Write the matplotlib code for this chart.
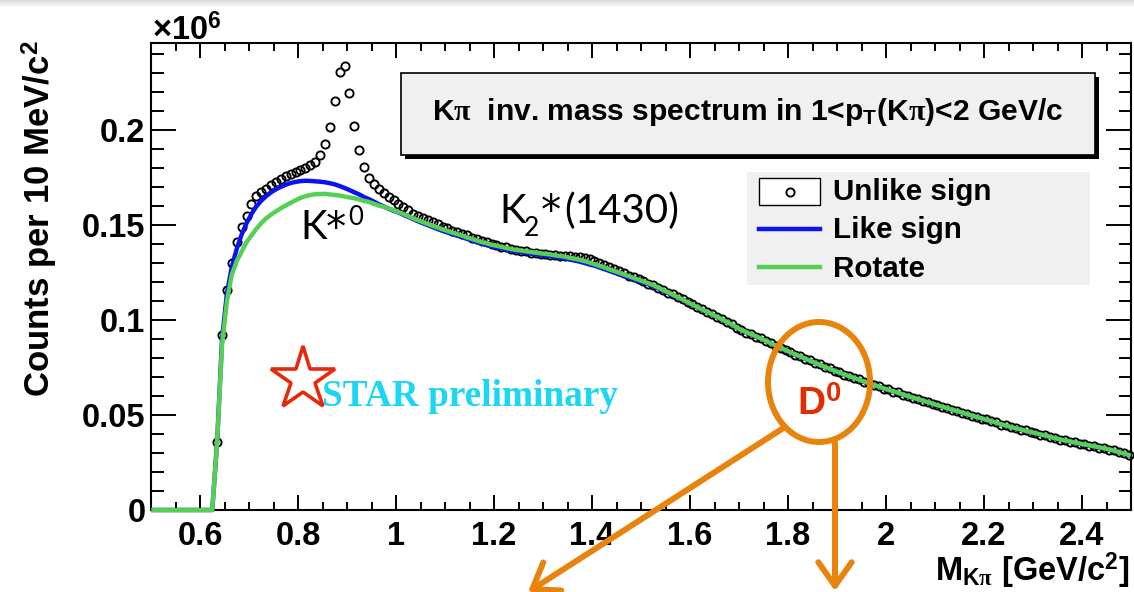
import numpy as np
import matplotlib
matplotlib.use("Agg")
import matplotlib.pyplot as plt
from matplotlib.patches import Rectangle, Ellipse, FancyArrowPatch, ArrowStyle
from matplotlib.lines import Line2D
from matplotlib.ticker import MultipleLocator, FuncFormatter

# K-pi invariant-mass histograms: 10 MeV/c^2 bins from 0.5 to 2.5 GeV/c^2
bin_low = 0.5
bin_width = 0.01
n_bins = 200

nan = np.nan

# counts per bin, in units of 1e6
unlike_sign = [
    nan, nan, nan, nan, nan, nan, nan, nan, nan, nan,
    nan, nan, nan, 0.036, 0.092, 0.116, 0.130, 0.141, 0.149, 0.155,
    0.161, 0.1655, 0.1675, 0.1692, 0.1710, 0.1727, 0.1743, 0.1757, 0.1768, 0.1777,
    0.1787, 0.1799, 0.1815, 0.1834, 0.1866, 0.1926, 0.2015, 0.2155, 0.2305, 0.2335,
    0.2195, 0.2020, 0.1895, 0.1805, 0.1750, 0.1718, 0.1690, 0.1667, 0.1648, 0.1631,
    0.1612, 0.1597, 0.1580, 0.1560, 0.1550, 0.1538, 0.1524, 0.1514, 0.1503, 0.1492,
    0.1482, 0.1470, 0.1465, 0.1452, 0.1445, 0.1432, 0.1426, 0.1416, 0.1408, 0.1400,
    0.1393, 0.1384, 0.1382, 0.1372, 0.1369, 0.1362, 0.1361, 0.1354, 0.1352, 0.1349,
    0.1345, 0.1343, 0.1341, 0.1339, 0.1338, 0.1336, 0.1334, 0.1331, 0.1326, 0.1320,
    0.1312, 0.1302, 0.1292, 0.1280, 0.1268, 0.1257, 0.1246, 0.1234, 0.1225, 0.1214,
    0.1206, 0.1192, 0.1185, 0.1169, 0.1160, 0.1144, 0.1135, 0.1119, 0.1110, 0.1093,
    0.1083, 0.1066, 0.1057, 0.1041, 0.1032, 0.1015, 0.1006, 0.0988, 0.0979, 0.0960,
    0.0950, 0.0934, 0.0927, 0.0912, 0.0904, 0.0888, 0.0879, 0.0864, 0.0855, 0.0840,
    0.0832, 0.0817, 0.0810, 0.0795, 0.0789, 0.0773, 0.0766, 0.0751, 0.0745, 0.0731,
    0.0725, 0.0712, 0.0706, 0.0693, 0.0688, 0.0674, 0.0670, 0.0657, 0.0652, 0.0639,
    0.0635, 0.0623, 0.0619, 0.0606, 0.0601, 0.0589, 0.0586, 0.0574, 0.0570, 0.0558,
    0.0554, 0.0542, 0.0538, 0.0526, 0.0523, 0.0511, 0.0507, 0.0495, 0.0492, 0.0481,
    0.0477, 0.0466, 0.0462, 0.0450, 0.0446, 0.0435, 0.0432, 0.0422, 0.0419, 0.0409,
    0.0407, 0.0396, 0.0394, 0.0383, 0.0380, 0.0370, 0.0368, 0.0359, 0.0357, 0.0348,
    0.0347, 0.0338, 0.0337, 0.0328, 0.0327, 0.0317, 0.0315, 0.0303, 0.0300, 0.0288,
]

like_sign = [
    0, 0, 0, 0, 0, 0, 0, 0, 0, 0,
    0, 0, 0, 0.036, 0.090, 0.114, 0.128, 0.1375, 0.145, 0.151,
    0.1558, 0.1598, 0.1628, 0.1652, 0.1672, 0.1688, 0.1701, 0.1712, 0.1721, 0.1727,
    0.1731, 0.1733, 0.1732, 0.1730, 0.1728, 0.1725, 0.1720, 0.1714, 0.1705, 0.1695,
    0.1684, 0.1672, 0.1661, 0.1647, 0.1636, 0.1623, 0.1609, 0.1598, 0.1586, 0.1575,
    0.1566, 0.1554, 0.1543, 0.1531, 0.1520, 0.1509, 0.1499, 0.1489, 0.1479, 0.1469,
    0.1461, 0.1452, 0.1444, 0.1436, 0.1427, 0.1419, 0.1410, 0.1402, 0.1396, 0.1388,
    0.1383, 0.1377, 0.1371, 0.1366, 0.1361, 0.1357, 0.1353, 0.1349, 0.1346, 0.1342,
    0.1339, 0.1336, 0.1332, 0.1328, 0.1324, 0.1318, 0.1313, 0.1307, 0.1300, 0.1292,
    0.1286, 0.1277, 0.1268, 0.1259, 0.1250, 0.1241, 0.1232, 0.1223, 0.1214, 0.1205,
    0.1198, 0.1188, 0.1178, 0.1166, 0.1154, 0.1142, 0.1130, 0.1118, 0.1105, 0.1092,
    0.1079, 0.1066, 0.1053, 0.1041, 0.1029, 0.1015, 0.1002, 0.0989, 0.0975, 0.0960,
    0.0947, 0.0935, 0.0924, 0.0912, 0.0901, 0.0889, 0.0876, 0.0865, 0.0852, 0.0841,
    0.0829, 0.0818, 0.0807, 0.0796, 0.0785, 0.0774, 0.0763, 0.0752, 0.0742, 0.0732,
    0.0722, 0.0713, 0.0703, 0.0694, 0.0685, 0.0675, 0.0667, 0.0658, 0.0649, 0.0640,
    0.0632, 0.0624, 0.0616, 0.0607, 0.0598, 0.0590, 0.0583, 0.0575, 0.0567, 0.0559,
    0.0551, 0.0543, 0.0535, 0.0527, 0.0520, 0.0512, 0.0504, 0.0496, 0.0489, 0.0482,
    0.0474, 0.0467, 0.0459, 0.0451, 0.0443, 0.0436, 0.0429, 0.0423, 0.0416, 0.0410,
    0.0404, 0.0397, 0.0391, 0.0384, 0.0377, 0.0371, 0.0365, 0.0360, 0.0354, 0.0349,
    0.0344, 0.0339, 0.0334, 0.0329, 0.0324, 0.0318, 0.0312, 0.0304, 0.0297, 0.0289,
]

rotate = [
    0, 0, 0, 0, 0, 0, 0, 0, 0, 0,
    0, 0, 0, 0.036, 0.087, 0.110, 0.124, 0.131, 0.136, 0.141,
    0.1445, 0.148, 0.151, 0.1535, 0.1555, 0.1572, 0.1588, 0.1603, 0.1617, 0.1630,
    0.1643, 0.1651, 0.1658, 0.1662, 0.1663, 0.1664, 0.1661, 0.1658, 0.1655, 0.1650,
    0.1645, 0.1641, 0.1634, 0.1627, 0.1621, 0.1612, 0.1602, 0.1596, 0.1588, 0.1578,
    0.1568, 0.1558, 0.1547, 0.1535, 0.1525, 0.1515, 0.1505, 0.1496, 0.1487, 0.1477,
    0.1469, 0.1460, 0.1452, 0.1444, 0.1434, 0.1427, 0.1418, 0.1410, 0.1404, 0.1396,
    0.1391, 0.1385, 0.1379, 0.1374, 0.1369, 0.1366, 0.1362, 0.1358, 0.1355, 0.1351,
    0.1348, 0.1345, 0.1340, 0.1337, 0.1333, 0.1327, 0.1322, 0.1317, 0.1310, 0.1302,
    0.1294, 0.1285, 0.1277, 0.1267, 0.1258, 0.1249, 0.1240, 0.1231, 0.1221, 0.1212,
    0.1203, 0.1193, 0.1184, 0.1171, 0.1158, 0.1146, 0.1133, 0.1121, 0.1108, 0.1094,
    0.1081, 0.1068, 0.1055, 0.1043, 0.1030, 0.1017, 0.1004, 0.0990, 0.0977, 0.0961,
    0.0948, 0.0936, 0.0925, 0.0914, 0.0902, 0.0890, 0.0877, 0.0866, 0.0853, 0.0842,
    0.0830, 0.0819, 0.0808, 0.0797, 0.0786, 0.0775, 0.0764, 0.0753, 0.0743, 0.0733,
    0.0723, 0.0714, 0.0704, 0.0695, 0.0686, 0.0676, 0.0668, 0.0659, 0.0650, 0.0641,
    0.0633, 0.0625, 0.0617, 0.0608, 0.0599, 0.0591, 0.0584, 0.0576, 0.0568, 0.0560,
    0.0552, 0.0544, 0.0536, 0.0528, 0.0521, 0.0513, 0.0505, 0.0497, 0.0490, 0.0483,
    0.0475, 0.0468, 0.0460, 0.0452, 0.0444, 0.0437, 0.0430, 0.0424, 0.0417, 0.0411,
    0.0405, 0.0398, 0.0392, 0.0385, 0.0378, 0.0372, 0.0366, 0.0361, 0.0355, 0.0350,
    0.0345, 0.0340, 0.0335, 0.0330, 0.0325, 0.0319, 0.0313, 0.0305, 0.0298, 0.0290,
]

series_labels = ["Unlike sign", "Like sign", "Rotate"]
x_range = (0.5, 2.5)
y_range = (0.0, 0.2458)

BLUE = "#0a14f0"
GREEN = "#55d055"
ORANGE = "#e8830c"
RED = "#e42a0a"
CYAN = "#1cd6f6"

plt.rcParams.update({
    "font.family": "Liberation Sans",
    "font.weight": "bold",
    "mathtext.fontset": "custom",
    "mathtext.rm": "Lato",
    "mathtext.bf": "Liberation Sans:bold",
    "mathtext.it": "Liberation Serif",
    "mathtext.fallback": "cm",
})

W, H = 1134, 592
fig = plt.figure(figsize=(W / 100, H / 100), dpi=100)


def P(px, py):
    """pixel position (from top-left) -> figure fraction"""
    return (px / W, 1 - py / H)


def label(px, py, s, size, family="Lato", **kw):
    fig.text(*P(px, py), s, family=family, weight="normal", fontsize=size,
             ha="left", va="baseline", **kw)


# faint shading along the top edge
shade = fig.add_axes([0, 1 - 8 / H, 1, 8 / H])
shade.imshow(np.linspace(0.86, 1.0, 8)[:, None], cmap="gray", vmin=0, vmax=1,
             aspect="auto", extent=(0, 1, 0, 1))
shade.axis("off")

ax = fig.add_axes([151 / W, 1 - 510 / H, (1131 - 151) / W, (510 - 43) / H])

mass = bin_low + bin_width * (np.arange(n_bins) + 0.5)

MARKER = dict(marker="o", ms=5.9, mfc="none", mec="black", mew=1.35)
ax.plot(mass, unlike_sign, linestyle="none", zorder=2, clip_on=False, **MARKER)
ax.plot(mass, like_sign, color=BLUE, lw=3.2, zorder=3, clip_on=False)
ax.plot(mass, rotate, color=GREEN, lw=3.2, zorder=4, clip_on=False)

ax.set_xlim(*x_range)
ax.set_ylim(*y_range)

fmt = FuncFormatter(lambda v, p: f"{v:g}")
ax.xaxis.set_major_locator(MultipleLocator(0.2))
ax.xaxis.set_minor_locator(MultipleLocator(0.05))
ax.yaxis.set_major_locator(MultipleLocator(0.05))
ax.yaxis.set_minor_locator(MultipleLocator(0.01))
ax.xaxis.set_major_formatter(fmt)
ax.yaxis.set_major_formatter(fmt)

ax.tick_params(which="both", direction="in", top=True, right=True, width=1.4,
               labelsize=23.5)
ax.tick_params(axis="x", which="major", length=10.8, pad=8)
ax.tick_params(axis="x", which="minor", length=5.6)
ax.tick_params(axis="y", which="major", length=18, pad=4)
ax.tick_params(axis="y", which="minor", length=9)
for s in ax.spines.values():
    s.set_linewidth(1.5)

# axis titles and exponent
fig.text(*P(40, 219), "Counts per 10 MeV/c$^{\\mathbf{2}}$", rotation=90,
         ha="center", va="center", fontsize=25)
fig.text(*P(1130, 581), r"$\mathbf{M}_{\mathbf{K}\pi}$ [GeV/c$^{\mathbf{2}}$]",
         ha="right", va="baseline", fontsize=23.5)
fig.text(*P(152, 40), "×10$^{\\mathbf{6}}$", ha="left", va="baseline", fontsize=23.5)

# title box with drop shadow
fig.add_artist(Rectangle(P(405, 159), 694 / W, 82 / H, transform=fig.transFigure,
                         fc="black", ec="none", zorder=5))
fig.add_artist(Rectangle(P(401, 155), 694 / W, 82 / H, transform=fig.transFigure,
                         fc="#f0f0f0", ec="black", lw=1.2, zorder=6))
fig.text(*P(748, 120), r"K$\pi$  inv. mass spectrum in 1<p$_{\mathbf{T}}$(K$\pi$)<2 GeV/c",
         ha="center", va="baseline", fontsize=21.6, zorder=7)

# legend
fig.add_artist(Rectangle(P(747, 285), 343 / W, 113 / H, transform=fig.transFigure,
                         fc="#f0f0f0", ec="none", zorder=5))
fig.add_artist(Rectangle(P(759, 205), 61 / W, 27 / H, transform=fig.transFigure,
                         fc="white", ec="black", lw=1.0, zorder=6))
fig.add_artist(Line2D([P(789.5, 191.5)[0]], [P(789.5, 191.5)[1]],
                      transform=fig.transFigure, zorder=7, **MARKER))
for yy, col in ((229, BLUE), (267, GREEN)):
    fig.add_artist(Line2D([759 / W, 820 / W], [1 - yy / H] * 2, color=col, lw=3.2,
                          transform=fig.transFigure, zorder=7))
for lab, base in zip(series_labels, (200, 238, 277)):
    fig.text(*P(833, base), lab, ha="left", va="baseline", fontsize=21.3, zorder=7)

# resonance labels: K*0 and K2*(1430)
label(300, 239, "K", 29)
label(326, 241, "*", 29, family="DejaVu Sans")
label(348, 225, "0", 18.5)
label(499, 223, "K", 29)
label(524, 236, "2", 19)
label(541, 224, "*", 29, family="DejaVu Sans")
label(564, 223, "(1430)", 29)

# STAR preliminary logo
fig.add_artist(Line2D([P(303, 379)[0]], [P(303, 379)[1]], marker="*", ms=48,
                      mfc="none", mec=RED, mew=2.6, transform=fig.transFigure, zorder=7))
fig.text(*P(322, 406), "STAR preliminary", family="Liberation Serif", weight="bold",
         color=CYAN, fontsize=26.8, ha="left", va="baseline", zorder=8)

# D0 callout
fig.add_artist(Ellipse(P(819, 382), 102 / W, 120 / H, transform=fig.transFigure,
                       fill=False, ec=ORANGE, lw=4.3, zorder=8))
fig.text(*P(797, 415), "D$^{\\mathbf{0}}$", color="#e22d00", fontsize=28,
         ha="left", va="baseline", zorder=8)
head = ArrowStyle("->", head_length=17, head_width=12)
fig.add_artist(FancyArrowPatch(P(785, 427), P(528, 592), arrowstyle=head,
                               mutation_scale=1, lw=4.3, color=ORANGE,
                               shrinkA=0, shrinkB=0, transform=fig.transFigure, zorder=8))
fig.add_artist(FancyArrowPatch(P(835, 443), P(835, 591), arrowstyle=head,
                               mutation_scale=1, lw=4.3, color=ORANGE,
                               shrinkA=0, shrinkB=0, transform=fig.transFigure, zorder=8))

fig.savefig("out.png", dpi=100)
